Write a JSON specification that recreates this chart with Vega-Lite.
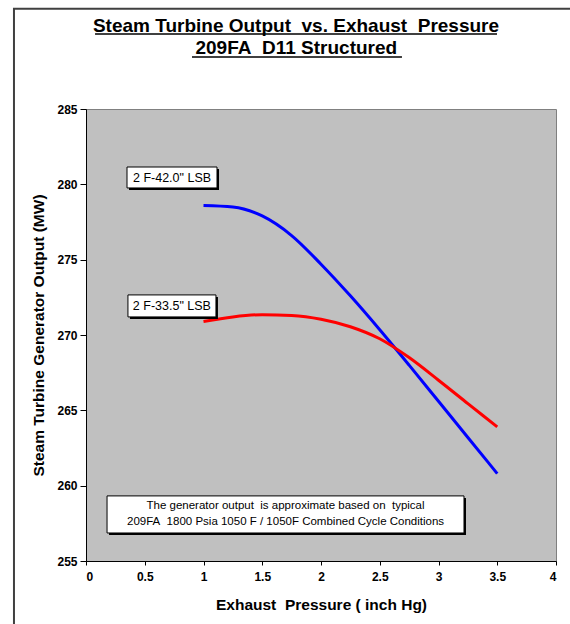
{
  "$schema": "https://vega.github.io/schema/vega-lite/v6.json",
  "width": 470,
  "height": 452,
  "autosize": {"type": "none"},
  "padding": {"left": 86, "top": 109, "right": 14, "bottom": 63},
  "background": "white",
  "config": {
    "view": {"fill": "#C0C0C0", "stroke": "#808080", "strokeWidth": 1},
    "axis": {
      "grid": false,
      "domainColor": "black",
      "tickColor": "black",
      "labelFont": "Liberation Sans",
      "labelFontSize": 12,
      "labelFontWeight": "bold",
      "labelColor": "black",
      "titleFont": "Liberation Sans",
      "titleFontWeight": "bold",
      "titleColor": "black"
    }
  },
  "datasets": {
    "curves": [
      {"series": "2 F-42.0\" LSB", "pressure": 1.0, "output": 278.6},
      {"series": "2 F-42.0\" LSB", "pressure": 1.25, "output": 278.5},
      {"series": "2 F-42.0\" LSB", "pressure": 1.5, "output": 277.9},
      {"series": "2 F-42.0\" LSB", "pressure": 1.75, "output": 276.6},
      {"series": "2 F-42.0\" LSB", "pressure": 2.0, "output": 274.7},
      {"series": "2 F-42.0\" LSB", "pressure": 2.25, "output": 272.6},
      {"series": "2 F-42.0\" LSB", "pressure": 2.5, "output": 270.35},
      {"series": "2 F-42.0\" LSB", "pressure": 2.75, "output": 268.0},
      {"series": "2 F-42.0\" LSB", "pressure": 3.0, "output": 265.6},
      {"series": "2 F-42.0\" LSB", "pressure": 3.25, "output": 263.2},
      {"series": "2 F-42.0\" LSB", "pressure": 3.5, "output": 260.8},
      {"series": "2 F-33.5\" LSB", "pressure": 1.0, "output": 270.9},
      {"series": "2 F-33.5\" LSB", "pressure": 1.25, "output": 271.2},
      {"series": "2 F-33.5\" LSB", "pressure": 1.5, "output": 271.35},
      {"series": "2 F-33.5\" LSB", "pressure": 1.75, "output": 271.3},
      {"series": "2 F-33.5\" LSB", "pressure": 2.0, "output": 271.05},
      {"series": "2 F-33.5\" LSB", "pressure": 2.25, "output": 270.55},
      {"series": "2 F-33.5\" LSB", "pressure": 2.5, "output": 269.75},
      {"series": "2 F-33.5\" LSB", "pressure": 2.75, "output": 268.5},
      {"series": "2 F-33.5\" LSB", "pressure": 3.0, "output": 267.0},
      {"series": "2 F-33.5\" LSB", "pressure": 3.25, "output": 265.45},
      {"series": "2 F-33.5\" LSB", "pressure": 3.5, "output": 263.9}
    ]
  },
  "layer": [
    {
      "data": {"name": "curves"},
      "mark": {"type": "line", "interpolate": "monotone", "strokeWidth": 3, "clip": true},
      "encoding": {
        "x": {
          "field": "pressure", "type": "quantitative",
          "scale": {"domain": [0, 4], "nice": false, "zero": false},
          "axis": {
            "title": "Exhaust\u00a0\u00a0Pressure ( inch Hg)",
            "titleFontSize": 15.5,
            "values": [0, 0.5, 1, 1.5, 2, 2.5, 3, 3.5, 4],
            "format": "~g",
            "tickSize": 4,
            "labelPadding": 6,
            "titlePadding": 15
          }
        },
        "y": {
          "field": "output", "type": "quantitative",
          "scale": {"domain": [255, 285], "nice": false, "zero": false},
          "axis": {
            "title": "Steam Turbine Generator Output (MW)",
            "titleFontSize": 15.5,
            "values": [255, 260, 265, 270, 275, 280, 285],
            "tickSize": 6,
            "labelPadding": 3,
            "titlePadding": 10
          }
        },
        "color": {
          "field": "series", "type": "nominal",
          "scale": {"domain": ["2 F-42.0\" LSB", "2 F-33.5\" LSB"], "range": ["#0000FF", "#FF0000"]},
          "legend": null
        }
      }
    },
    {
      "data": {"values": [{"label": "2 F-42.0\" LSB"}]},
      "layer": [
        {
          "mark": {"type": "rect", "fill": "black", "xOffset": 2, "x2Offset": 2, "yOffset": 2, "y2Offset": 2},
          "encoding": {"x": {"datum": 0.349}, "x2": {"datum": 1.115}, "y": {"datum": 281.15}, "y2": {"datum": 279.76}}
        },
        {
          "mark": {"type": "rect", "fill": "white", "stroke": "black", "strokeWidth": 1},
          "encoding": {"x": {"datum": 0.349}, "x2": {"datum": 1.115}, "y": {"datum": 281.15}, "y2": {"datum": 279.76}}
        },
        {
          "mark": {"type": "text", "font": "Liberation Sans", "fontSize": 12.5, "color": "black", "align": "center", "baseline": "middle"},
          "encoding": {"x": {"datum": 0.732}, "y": {"datum": 280.45}, "text": {"field": "label"}}
        }
      ]
    },
    {
      "data": {"values": [{"label": "2 F-33.5\" LSB"}]},
      "layer": [
        {
          "mark": {"type": "rect", "fill": "black", "xOffset": 2, "x2Offset": 2, "yOffset": 2, "y2Offset": 2},
          "encoding": {"x": {"datum": 0.357}, "x2": {"datum": 1.106}, "y": {"datum": 272.66}, "y2": {"datum": 271.2}}
        },
        {
          "mark": {"type": "rect", "fill": "white", "stroke": "black", "strokeWidth": 1},
          "encoding": {"x": {"datum": 0.357}, "x2": {"datum": 1.106}, "y": {"datum": 272.66}, "y2": {"datum": 271.2}}
        },
        {
          "mark": {"type": "text", "font": "Liberation Sans", "fontSize": 12.5, "color": "black", "align": "center", "baseline": "middle"},
          "encoding": {"x": {"datum": 0.731}, "y": {"datum": 271.93}, "text": {"field": "label"}}
        }
      ]
    },
    {
      "data": {"values": [{"note": ["The generator output\u00a0\u00a0is approximate based on\u00a0\u00a0typical", "209FA\u00a0\u00a01800 Psia 1050 F / 1050F Combined Cycle Conditions"]}]},
      "layer": [
        {
          "mark": {"type": "rect", "fill": "black", "xOffset": 2, "x2Offset": 2, "yOffset": 2, "y2Offset": 2},
          "encoding": {"x": {"datum": 0.179}, "x2": {"datum": 3.217}, "y": {"datum": 259.32}, "y2": {"datum": 256.86}}
        },
        {
          "mark": {"type": "rect", "fill": "white", "stroke": "black", "strokeWidth": 1},
          "encoding": {"x": {"datum": 0.179}, "x2": {"datum": 3.217}, "y": {"datum": 259.32}, "y2": {"datum": 256.86}}
        },
        {
          "mark": {"type": "text", "font": "Liberation Sans", "fontSize": 11.5, "color": "black", "align": "center", "baseline": "middle", "lineHeight": 16},
          "encoding": {"x": {"datum": 1.698}, "y": {"datum": 258.66}, "text": {"field": "note"}}
        }
      ]
    },
    {
      "data": {"values": [{"line1": "Steam Turbine Output\u00a0\u00a0vs. Exhaust\u00a0\u00a0Pressure", "line2": "209FA\u00a0\u00a0D11\u00a0Structured"}]},
      "layer": [
        {
          "mark": {"type": "text", "font": "Liberation Sans", "fontSize": 19, "fontWeight": "bold", "color": "black", "align": "center", "baseline": "alphabetic"},
          "encoding": {"x": {"datum": 1.787}, "y": {"datum": 290.11}, "text": {"field": "line1"}}
        },
        {
          "mark": {"type": "text", "font": "Liberation Sans", "fontSize": 19, "fontWeight": "bold", "color": "black", "align": "center", "baseline": "alphabetic"},
          "encoding": {"x": {"datum": 1.79}, "y": {"datum": 288.65}, "text": {"field": "line2"}}
        },
        {
          "mark": {"type": "rule", "color": "black", "strokeWidth": 1.5},
          "encoding": {"x": {"datum": 0.077}, "x2": {"datum": 3.498}, "y": {"datum": 289.97}}
        },
        {
          "mark": {"type": "rule", "color": "black", "strokeWidth": 1.5},
          "encoding": {"x": {"datum": 0.902}, "x2": {"datum": 2.689}, "y": {"datum": 288.45}}
        },
        {
          "mark": {"type": "rect", "fill": null, "fillOpacity": 0, "stroke": "#404040", "strokeWidth": 2},
          "encoding": {"x": {"datum": -0.613}, "x2": {"datum": 5.2}, "y": {"datum": 291.66}, "y2": {"datum": 249}}
        }
      ]
    }
  ]
}
